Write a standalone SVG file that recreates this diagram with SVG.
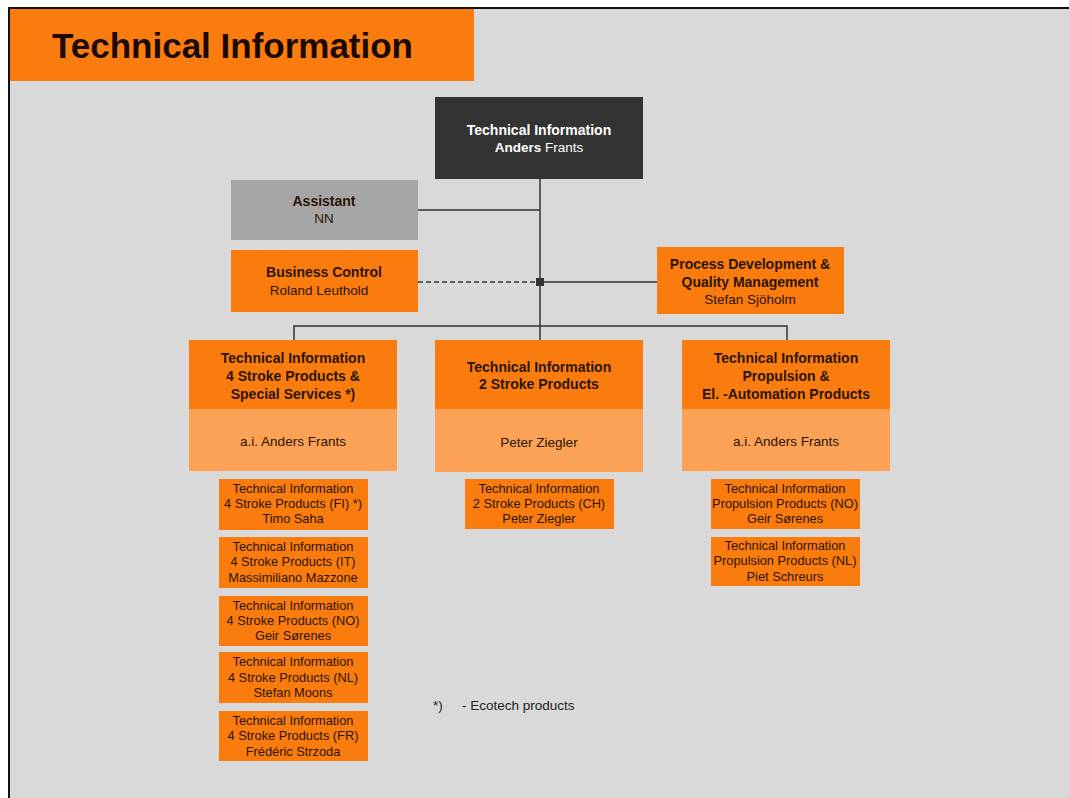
<svg xmlns="http://www.w3.org/2000/svg" width="1069" height="798" viewBox="0 0 1069 798">
<style>
text{font-family:"Liberation Sans",Arial,sans-serif;text-anchor:middle;fill:#2a1500}
.b{font-weight:bold;font-size:14px}
.n{font-size:13.5px}
.s{font-size:12.8px}
.or{fill:#fb7c0e}
.lt{fill:#fba257}
.ln{stroke:#333;stroke-width:1.5;fill:none}
</style>
<rect x="0" y="0" width="1069" height="798" fill="#fff"/>
<rect x="9" y="8" width="1070" height="800" fill="#d9d9d9" stroke="#111" stroke-width="2"/>
<g id="title">
<rect x="10" y="9" width="464" height="72" class="or"/>
<text x="52" y="58" style="text-anchor:start;font-weight:bold;font-size:35px;fill:#1a0a00" textLength="361" lengthAdjust="spacingAndGlyphs">Technical Information</text>
</g>
<g id="connectors">
<line class="ln" x1="540" y1="179" x2="540" y2="340"/>
<line class="ln" x1="418" y1="210" x2="540" y2="210"/>
<line class="ln" x1="418" y1="282" x2="536" y2="282" stroke-dasharray="5,3"/>
<line class="ln" x1="544" y1="282" x2="657" y2="282"/>
<rect x="536" y="278" width="8" height="8" fill="#333"/>
<polyline class="ln" points="294,340 294,326 787,326 787,340"/>
</g>
<g id="head">
<rect x="435" y="97" width="208" height="82" fill="#333"/>
<text x="539" y="135" class="b" style="fill:#fff">Technical Information</text>
<text x="539" y="152" class="n" style="fill:#fff"><tspan font-weight="bold">Anders</tspan> Frants</text>
</g>
<g id="assistant">
<rect x="231" y="180" width="187" height="60" fill="#a6a6a6"/>
<text x="324" y="206" class="b">Assistant</text>
<text x="324" y="223" class="n">NN</text>
</g>
<g id="business">
<rect x="231" y="250" width="187" height="62" class="or"/>
<text x="324" y="277" class="b">Business Control</text>
<text x="319" y="295" class="n">Roland Leuthold</text>
</g>
<g id="process">
<rect x="657" y="247" width="187" height="67" class="or"/>
<text x="750" y="269" class="b">Process Development &amp;</text>
<text x="750" y="287" class="b">Quality Management</text>
<text x="750" y="304" class="n">Stefan Sjöholm</text>
</g>
<g id="col1">
<rect x="189" y="340" width="208" height="69" class="or"/>
<rect x="189" y="409" width="208" height="62" class="lt"/>
<text x="293" y="363" class="b">Technical Information</text>
<text x="293" y="381" class="b">4 Stroke Products &amp;</text>
<text x="293" y="399" class="b">Special Services *)</text>
<text x="293" y="446" class="n">a.i. Anders Frants</text>
</g>
<g id="col2">
<rect x="435" y="340" width="208" height="69" class="or"/>
<rect x="435" y="409" width="208" height="63" class="lt"/>
<text x="539" y="372" class="b">Technical Information</text>
<text x="539" y="389" class="b">2 Stroke Products</text>
<text x="539" y="447" class="n">Peter Ziegler</text>
</g>
<g id="col3">
<rect x="682" y="340" width="208" height="69" class="or"/>
<rect x="682" y="409" width="208" height="62" class="lt"/>
<text x="786" y="363" class="b">Technical Information</text>
<text x="786" y="381" class="b">Propulsion &amp;</text>
<text x="786" y="399" class="b">El. -Automation Products</text>
<text x="786" y="446" class="n">a.i. Anders Frants</text>
</g>
<g id="fi">
<rect x="219" y="479" width="149" height="51" class="or"/>
<text x="293" y="493" class="s">Technical Information</text>
<text x="293" y="508" class="s">4 Stroke Products (FI) *)</text>
<text x="293" y="523" class="s">Timo Saha</text>
</g>
<g id="it">
<rect x="219" y="537" width="149" height="51" class="or"/>
<text x="293" y="551" class="s">Technical Information</text>
<text x="293" y="566" class="s">4 Stroke Products (IT)</text>
<text x="293" y="582" class="s">Massimiliano Mazzone</text>
</g>
<g id="no4">
<rect x="219" y="596" width="149" height="50" class="or"/>
<text x="293" y="610" class="s">Technical Information</text>
<text x="293" y="625" class="s">4 Stroke Products (NO)</text>
<text x="293" y="640" class="s">Geir Sørenes</text>
</g>
<g id="nl4">
<rect x="219" y="652" width="149" height="51" class="or"/>
<text x="293" y="666" class="s">Technical Information</text>
<text x="293" y="682" class="s">4 Stroke Products (NL)</text>
<text x="293" y="697" class="s">Stefan Moons</text>
</g>
<g id="fr">
<rect x="219" y="711" width="149" height="50" class="or"/>
<text x="293" y="725" class="s">Technical Information</text>
<text x="293" y="740" class="s">4 Stroke Products (FR)</text>
<text x="293" y="756" class="s">Frédéric Strzoda</text>
</g>
<g id="ch">
<rect x="465" y="479" width="149" height="50" class="or"/>
<text x="539" y="493" class="s">Technical Information</text>
<text x="539" y="508" class="s">2 Stroke Products (CH)</text>
<text x="539" y="523" class="s">Peter Ziegler</text>
</g>
<g id="pno">
<rect x="711" y="479" width="149" height="50" class="or"/>
<text x="785" y="493" class="s">Technical Information</text>
<text x="785" y="508" class="s">Propulsion Products (NO)</text>
<text x="785" y="523" class="s">Geir Sørenes</text>
</g>
<g id="pnl">
<rect x="711" y="537" width="149" height="49" class="or"/>
<text x="785" y="550" class="s">Technical Information</text>
<text x="785" y="565" class="s">Propulsion Products (NL)</text>
<text x="785" y="581" class="s">Piet Schreurs</text>
</g>
<text x="433" y="710" class="n" style="text-anchor:start;fill:#222">*)<tspan x="462">- Ecotech products</tspan></text>
</svg>
